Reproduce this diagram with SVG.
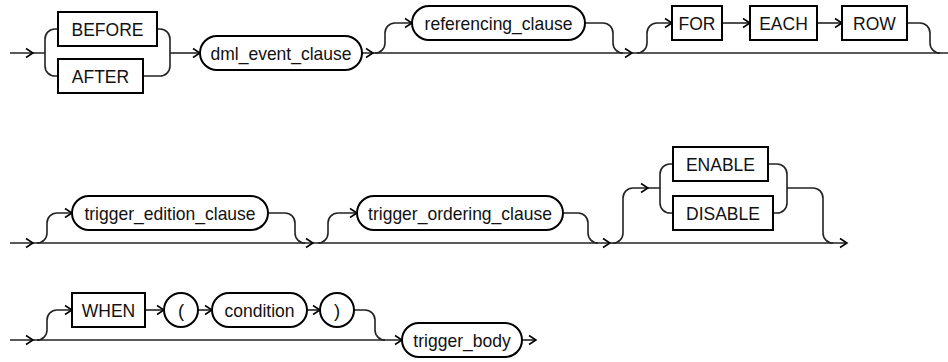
<svg xmlns="http://www.w3.org/2000/svg" width="948" height="362" viewBox="0 0 948 362">
<style>
.ln{fill:none;stroke:#222;stroke-width:1.6}
.bx{fill:#fff;stroke:#000;stroke-width:2}
.ah{fill:none;stroke:#000;stroke-width:1.5}
text{font-family:"Liberation Sans",Arial,sans-serif;font-size:18.5px;text-anchor:middle;fill:#111}
</style>
<defs>
<path id="ah" class="ah" d="M-7,-4.5 L0,0 L-7,4.5"/>
</defs>
<g id="connectors">
<path class="ln" d="M10,53 H45"/>
<path class="ln" d="M45,53 V39 A10,10 0 0 1 55,29 H58"/>
<path class="ln" d="M45,53 V66 A10,10 0 0 0 55,76 H58"/>
<path class="ln" d="M157,29 H160 A10,10 0 0 1 170,39 V53"/>
<path class="ln" d="M143,76 H160 A10,10 0 0 0 170,66 V53"/>
<path class="ln" d="M170,53 H200"/>
<path class="ln" d="M362,53 H948"/>
<path class="ln" d="M375,53 A10,10 0 0 0 385,43 V33 A10,10 0 0 1 395,23 H412"/>
<path class="ln" d="M585,23 H603 A10,10 0 0 1 613,33 V43 A10,10 0 0 0 623,53"/>
<path class="ln" d="M637,53 A10,10 0 0 0 647,43 V33 A10,10 0 0 1 657,23 H672"/>
<path class="ln" d="M722,23 H750"/>
<path class="ln" d="M817,23 H842"/>
<path class="ln" d="M907,23 H920 A10,10 0 0 1 930,33 V43 A10,10 0 0 0 940,53"/>
<use href="#ah" x="33" y="53"/>
<use href="#ah" x="200" y="53"/>
<use href="#ah" x="373" y="53"/>
<use href="#ah" x="412" y="23"/>
<use href="#ah" x="632" y="53"/>
<use href="#ah" x="672" y="23"/>
<use href="#ah" x="750" y="23"/>
<use href="#ah" x="842" y="23"/>
<path class="ln" d="M10,243 H847"/>
<path class="ln" d="M37,243 A10,10 0 0 0 47,233 V223 A10,10 0 0 1 57,213 H72"/>
<path class="ln" d="M268,213 H285 A10,10 0 0 1 295,223 V233 A10,10 0 0 0 305,243"/>
<path class="ln" d="M318,243 A10,10 0 0 0 328,233 V223 A10,10 0 0 1 338,213 H357"/>
<path class="ln" d="M563,213 H578 A10,10 0 0 1 588,223 V233 A10,10 0 0 0 598,243"/>
<path class="ln" d="M613,243 A10,10 0 0 0 623,233 V198 A10,10 0 0 1 633,188 H660"/>
<path class="ln" d="M660,188 V174 A10,10 0 0 1 670,164 H673"/>
<path class="ln" d="M660,188 V203 A10,10 0 0 0 670,213 H673"/>
<path class="ln" d="M768,164 H777 A10,10 0 0 1 787,174 V188"/>
<path class="ln" d="M773,213 H777 A10,10 0 0 0 787,203 V188"/>
<path class="ln" d="M787,188 H813 A10,10 0 0 1 823,198 V233 A10,10 0 0 0 833,243"/>
<use href="#ah" x="33" y="243"/>
<use href="#ah" x="72" y="213"/>
<use href="#ah" x="313" y="243"/>
<use href="#ah" x="357" y="213"/>
<use href="#ah" x="610" y="243"/>
<use href="#ah" x="648" y="188"/>
<use href="#ah" x="847" y="243"/>
<path class="ln" d="M10,340 H402"/>
<path class="ln" d="M37,340 A10,10 0 0 0 47,330 V320 A10,10 0 0 1 57,310 H72"/>
<path class="ln" d="M145,310 H164"/>
<path class="ln" d="M198,310 H212"/>
<path class="ln" d="M307,310 H320"/>
<path class="ln" d="M354,310 H365 A10,10 0 0 1 375,320 V330 A10,10 0 0 0 385,340"/>
<path class="ln" d="M522,340 H536"/>
<use href="#ah" x="33" y="340"/>
<use href="#ah" x="72" y="310"/>
<use href="#ah" x="164" y="310"/>
<use href="#ah" x="212" y="310"/>
<use href="#ah" x="320" y="310"/>
<use href="#ah" x="402" y="340"/>
<use href="#ah" x="536" y="340"/>
</g>
<g id="n_before"><rect class="bx" x="58" y="12" width="99" height="34"/><text x="107.5" y="35.5" textLength="72" lengthAdjust="spacingAndGlyphs">BEFORE</text></g>
<g id="n_after"><rect class="bx" x="58" y="59" width="85" height="34"/><text x="100.5" y="82.5" textLength="57.4" lengthAdjust="spacingAndGlyphs">AFTER</text></g>
<g id="n_dml_event_clause"><rect class="bx" x="200" y="36" width="162" height="34" rx="17"/><text x="281" y="59.5" textLength="141" lengthAdjust="spacingAndGlyphs">dml_event_clause</text></g>
<g id="n_referencing_clause"><rect class="bx" x="412" y="6" width="173" height="34" rx="17"/><text x="498.5" y="29.5" textLength="147.8" lengthAdjust="spacingAndGlyphs">referencing_clause</text></g>
<g id="n_for"><rect class="bx" x="672" y="6" width="50" height="34"/><text x="697" y="29.5" textLength="36.9" lengthAdjust="spacingAndGlyphs">FOR</text></g>
<g id="n_each"><rect class="bx" x="750" y="6" width="67" height="34"/><text x="783.5" y="29.5" textLength="48.6" lengthAdjust="spacingAndGlyphs">EACH</text></g>
<g id="n_row"><rect class="bx" x="842" y="6" width="65" height="34"/><text x="874.5" y="29.5" textLength="42.8" lengthAdjust="spacingAndGlyphs">ROW</text></g>
<g id="n_trigger_edition_clause"><rect class="bx" x="72" y="196" width="196" height="34" rx="17"/><text x="170" y="219.5" textLength="171.2" lengthAdjust="spacingAndGlyphs">trigger_edition_clause</text></g>
<g id="n_trigger_ordering_clause"><rect class="bx" x="357" y="196" width="206" height="34" rx="17"/><text x="460" y="219.5" textLength="183.8" lengthAdjust="spacingAndGlyphs">trigger_ordering_clause</text></g>
<g id="n_enable"><rect class="bx" x="673" y="147" width="95" height="34"/><text x="720.5" y="170.5" textLength="69.1" lengthAdjust="spacingAndGlyphs">ENABLE</text></g>
<g id="n_disable"><rect class="bx" x="673" y="196" width="100" height="34"/><text x="723" y="219.5" textLength="73.9" lengthAdjust="spacingAndGlyphs">DISABLE</text></g>
<g id="n_when"><rect class="bx" x="72" y="293" width="73" height="34"/><text x="108.5" y="316.5" textLength="53.5" lengthAdjust="spacingAndGlyphs">WHEN</text></g>
<g id="n_lparen"><rect class="bx" x="164" y="293" width="34" height="34" rx="17"/><text x="181" y="316.5">(</text></g>
<g id="n_condition"><rect class="bx" x="212" y="293" width="95" height="34" rx="17"/><text x="259.5" y="316.5" textLength="70" lengthAdjust="spacingAndGlyphs">condition</text></g>
<g id="n_rparen"><rect class="bx" x="320" y="293" width="34" height="34" rx="17"/><text x="337" y="316.5">)</text></g>
<g id="n_trigger_body"><rect class="bx" x="402" y="323" width="120" height="34" rx="17"/><text x="462" y="346.5" textLength="97.3" lengthAdjust="spacingAndGlyphs">trigger_body</text></g>
</svg>
